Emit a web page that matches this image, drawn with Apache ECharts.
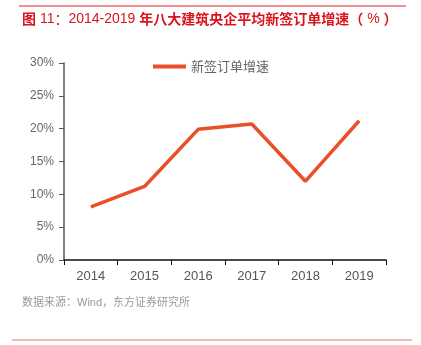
<!DOCTYPE html>
<html>
<head>
<meta charset="utf-8">
<script src="https://cdn.jsdelivr.net/npm/echarts@6/dist/echarts.min.js"></script>
<style>
  html, body { margin: 0; padding: 0; background: #fff; }
  #chart { width: 421px; height: 345px; }
</style>
</head>
<body>
<div id="chart"></div>
<script>
// Years on the category axis
const years = ['2014', '2015', '2016', '2017', '2018', '2019'];
// Average new-order growth of the eight construction SOEs (%)
const orderGrowth = [8.1, 11.2, 19.9, 20.7, 12.0, 21.2];
// Value-axis ticks (%)
const yTicks = [0, 5, 10, 15, 20, 25, 30];

const chart = echarts.init(document.getElementById('chart'));

chart.setOption({
  animation: false,
  backgroundColor: '#fff',
  textStyle: { fontFamily: 'Arial, "Liberation Sans", "Noto Sans CJK SC", sans-serif' },
  grid: { left: 64, right: 35, top: 63, bottom: 85 },
  legend: {
    data: ['新签订单增速'],
    left: 148,
    top: 55,
    itemWidth: 33,
    itemHeight: 4,
    itemGap: 6,
    icon: 'rect',
    textStyle: {
      fontFamily: '"Noto Sans CJK SC", sans-serif',
      fontSize: 13,
      color: '#666'
    }
  },
  xAxis: {
    type: 'category',
    data: years,
    boundaryGap: true,
    axisLine: { lineStyle: { color: '#111', width: 1.5 } },
    axisTick: { show: true, alignWithLabel: false, length: 5, lineStyle: { color: '#111' } },
    axisLabel: { color: '#555', fontSize: 13, margin: 10 },
    splitLine: { show: false }
  },
  yAxis: {
    type: 'value',
    min: yTicks[0],
    max: yTicks[yTicks.length - 1],
    interval: 5,
    axisLine: { show: true, lineStyle: { color: '#555', width: 1.5 } },
    axisTick: { show: true, length: 5, lineStyle: { color: '#555' } },
    axisLabel: { color: '#666', fontSize: 12, margin: 10, formatter: v => v + '%' },
    splitLine: { show: false }
  },
  series: [{
    name: '新签订单增速',
    type: 'line',
    data: orderGrowth,
    symbol: 'none',
    lineStyle: { color: '#e9502a', width: 3.5 },
    itemStyle: { color: '#e9502a' }
  }],
  graphic: [
    {
      type: 'line',
      shape: { x1: 19, y1: 6, x2: 406, y2: 6 },
      style: { stroke: '#e0202a', lineWidth: 1 }
    },
    {
      type: 'text',
      left: 22,
      top: 12,
      style: {
        text: '{b|图} {n|11}{c|：}{n|2014-2019 }{b|年八大建筑央企平均新签订单增速（}{n| % }{b|）}',
        fill: '#d9161e',
        rich: {
          b: { fill: '#d9161e', font: 'bold 14px "Noto Sans CJK SC", sans-serif' },
          c: { fill: '#d9161e', font: '14px "Noto Sans CJK SC", sans-serif' },
          n: { fill: '#d9161e', font: '14px Arial, "Liberation Sans", sans-serif' }
        },
        font: '14px Arial, "Noto Sans CJK SC", sans-serif'
      }
    },
    {
      type: 'text',
      left: 22,
      top: 297,
      style: {
        text: '数据来源：Wind，东方证券研究所',
        fill: '#9a9a9a',
        font: '11px Arial, "Noto Sans CJK SC", sans-serif'
      }
    },
    {
      type: 'line',
      shape: { x1: 12, y1: 340, x2: 412, y2: 340 },
      style: { stroke: '#f07070', lineWidth: 1.2 }
    }
  ]
});
</script>
</body>
</html>
